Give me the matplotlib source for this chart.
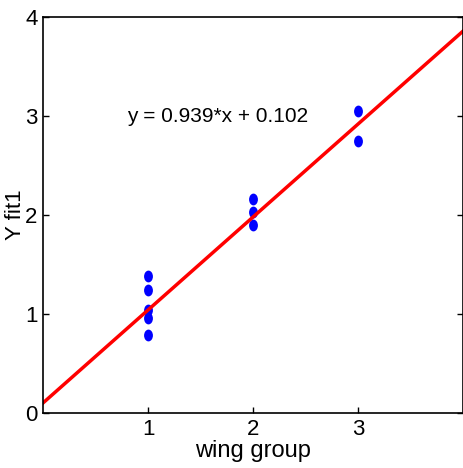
import matplotlib
matplotlib.use('Agg')
import matplotlib.pyplot as plt
from matplotlib.path import Path
from matplotlib.transforms import Affine2D
import numpy as np

# 数据
wing_group = [1, 1, 1, 1, 1, 2, 2, 2, 3, 3]
y_fit1 = [1.38, 1.24, 1.04, 0.96, 0.79, 2.16, 2.03, 1.90, 3.05, 2.75]
slope = 0.939
intercept = 0.102
x_ticks = [1, 2, 3]
y_ticks = [0, 1, 2, 3, 4]

plt.rcParams['font.family'] = ['Liberation Sans', 'DejaVu Sans']

fig = plt.figure(figsize=(4.63, 4.68), dpi=100)
ax = fig.add_axes([0.093, 0.1175, 0.907, 0.846])

# 椭圆形标记
oval = Path.unit_circle().transformed(Affine2D().scale(0.75, 1.0))
ax.plot(wing_group, y_fit1, linestyle='none', marker=oval,
        markersize=8.5, color='#0000ff', markeredgewidth=0)

# 拟合直线
xl = np.array([0, 4])
ax.plot(xl, slope * xl + intercept, color='#ff0000', linewidth=2.5)

ax.text(0.8, 3.0, 'y = %.3f*x + %.3f' % (slope, intercept),
        fontsize=15, va='center', ha='left')

ax.set_xlim(0, 4)
ax.set_ylim(0, 4)
ax.set_xticks(x_ticks)
ax.set_yticks(y_ticks)
ax.tick_params(direction='in', top=False, right=True, labelsize=16,
               length=4, width=1, pad=4)
ax.set_xlabel('wing group', fontsize=17, labelpad=0)
ax.set_ylabel('Y fit1', fontsize=16, labelpad=-1)
for s in ax.spines.values():
    s.set_linewidth(1.2)

fig.savefig('out.png', dpi=100)
